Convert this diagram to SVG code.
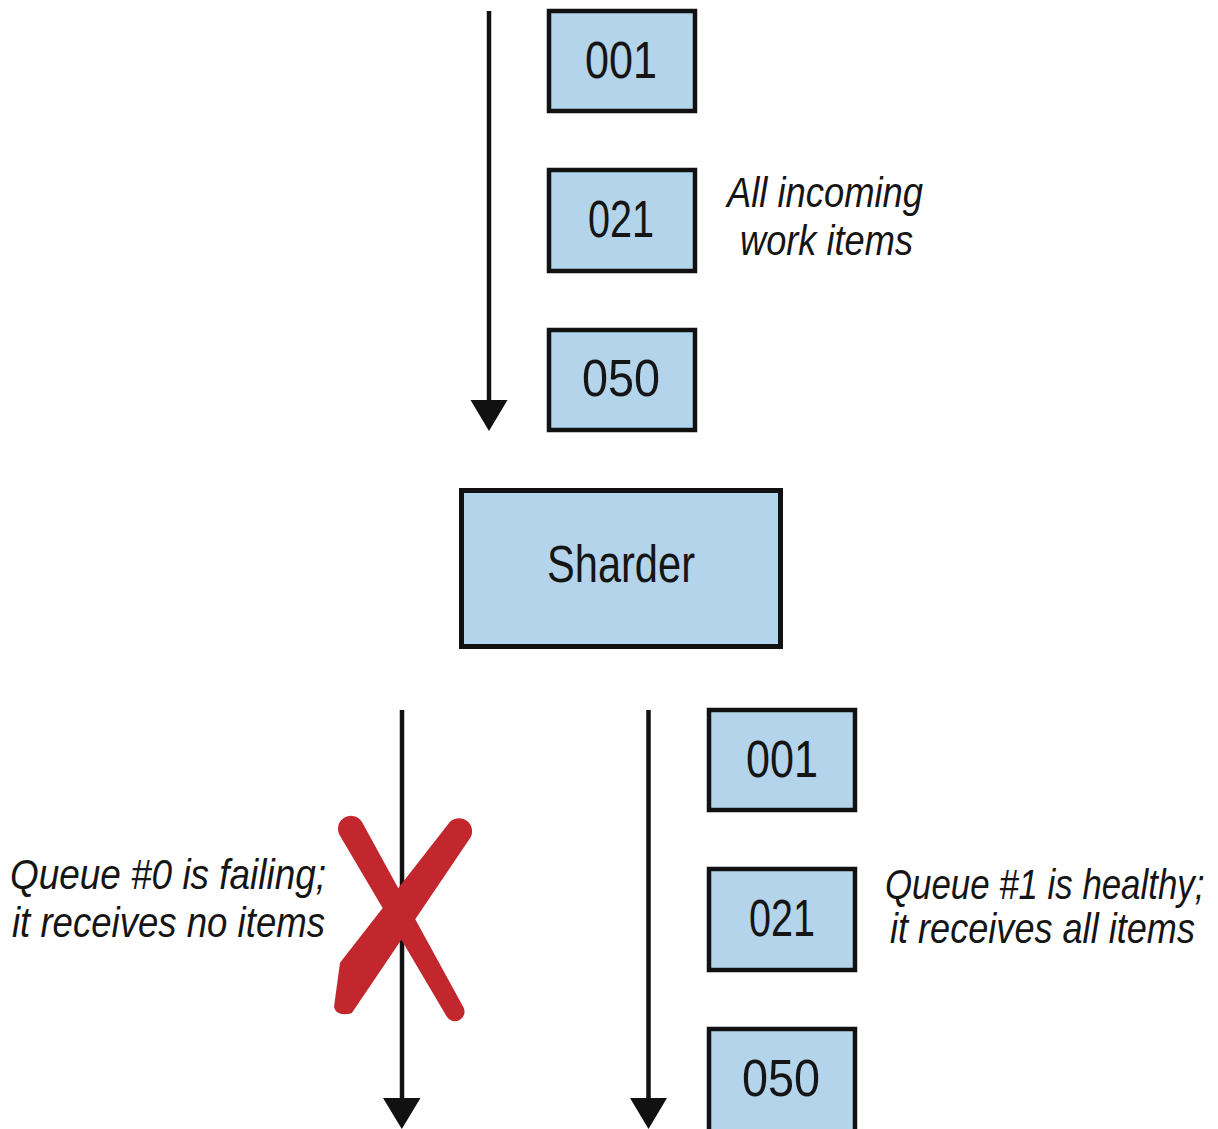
<svg xmlns="http://www.w3.org/2000/svg" width="1218" height="1129" viewBox="0 0 1218 1129">
<style>
.box{fill:#b3d4ea;stroke:#111;stroke-width:4.5}
.big{fill:#b3d4ea;stroke:#111;stroke-width:5}
.num{font-family:"Liberation Sans",Arial,sans-serif;font-size:51px;fill:#151515}
.lbl{font-family:"Liberation Sans",Arial,sans-serif;font-style:italic;font-size:43px;fill:#151515}
.ln{stroke:#111;stroke-width:4.5;fill:none}
.ah{fill:#111}
.x{fill:#c1272d}
</style>
<rect width="1218" height="1129" fill="#fff"/>
<g id="connectors">
<line class="ln" x1="489" y1="11" x2="489" y2="404"/>
<polygon class="ah" points="470.5,400 507.5,400 489,431"/>
<line class="ln" x1="402" y1="710" x2="402" y2="1102"/>
<polygon class="ah" points="383,1098 420.5,1098 401.8,1129"/>
<line class="ln" x1="648.5" y1="710" x2="648.5" y2="1102"/>
<polygon class="ah" points="630,1098 667,1098 648.5,1129"/>
</g>
<g id="in-001"><rect class="box" x="549" y="11" width="146" height="100"/><text class="num" x="621" y="78" text-anchor="middle" textLength="72" lengthAdjust="spacingAndGlyphs">001</text></g>
<g id="in-021"><rect class="box" x="549" y="170" width="146" height="101"/><text class="num" x="621" y="237" text-anchor="middle" textLength="66" lengthAdjust="spacingAndGlyphs">021</text></g>
<g id="in-050"><rect class="box" x="549" y="330" width="146" height="100"/><text class="num" x="621" y="396" text-anchor="middle" textLength="78" lengthAdjust="spacingAndGlyphs">050</text></g>
<g id="label-incoming">
<text class="lbl" x="727" y="207" textLength="196" lengthAdjust="spacingAndGlyphs">All incoming</text>
<text class="lbl" x="740" y="255" textLength="173" lengthAdjust="spacingAndGlyphs">work items</text>
</g>
<g id="sharder"><rect class="big" x="461.5" y="490.5" width="319" height="156"/><text class="num" x="621" y="582" text-anchor="middle" font-size="53" textLength="148" lengthAdjust="spacingAndGlyphs">Sharder</text></g>
<g id="q1-001"><rect class="box" x="709" y="710" width="146" height="100"/><text class="num" x="782" y="777" text-anchor="middle" textLength="72" lengthAdjust="spacingAndGlyphs">001</text></g>
<g id="q1-021"><rect class="box" x="709" y="869" width="146" height="101"/><text class="num" x="782" y="936" text-anchor="middle" textLength="66" lengthAdjust="spacingAndGlyphs">021</text></g>
<g id="q1-050"><rect class="box" x="709" y="1029" width="146" height="110"/><text class="num" x="781" y="1096" text-anchor="middle" textLength="78" lengthAdjust="spacingAndGlyphs">050</text></g>
<g id="label-q0">
<text class="lbl" x="10" y="889" textLength="316" lengthAdjust="spacingAndGlyphs">Queue #0 is failing;</text>
<text class="lbl" x="12" y="937" textLength="313" lengthAdjust="spacingAndGlyphs">it receives no items</text>
</g>
<g id="label-q1">
<text class="lbl" transform="translate(885,899) scale(0.81,1)">Queue #1 is healthy;</text>
<text class="lbl" transform="translate(890,943) scale(0.84,1)">it receives all items</text>
</g>
<g id="failed-mark">
<path class="x" d="M362,821.9 L463.3,1007 A9.5,9.5 0 0 1 446.7,1016.4 L339.4,834.7 A13,13 0 0 1 362,821.9 Z"/>
<path class="x" d="M450,821.7 L340,962.7 L334,1006.7 Q336,1017 351.7,1013.3 L469.3,839.3 A13.1,13.1 0 0 0 450,821.7 Z"/>
</g>
</svg>
